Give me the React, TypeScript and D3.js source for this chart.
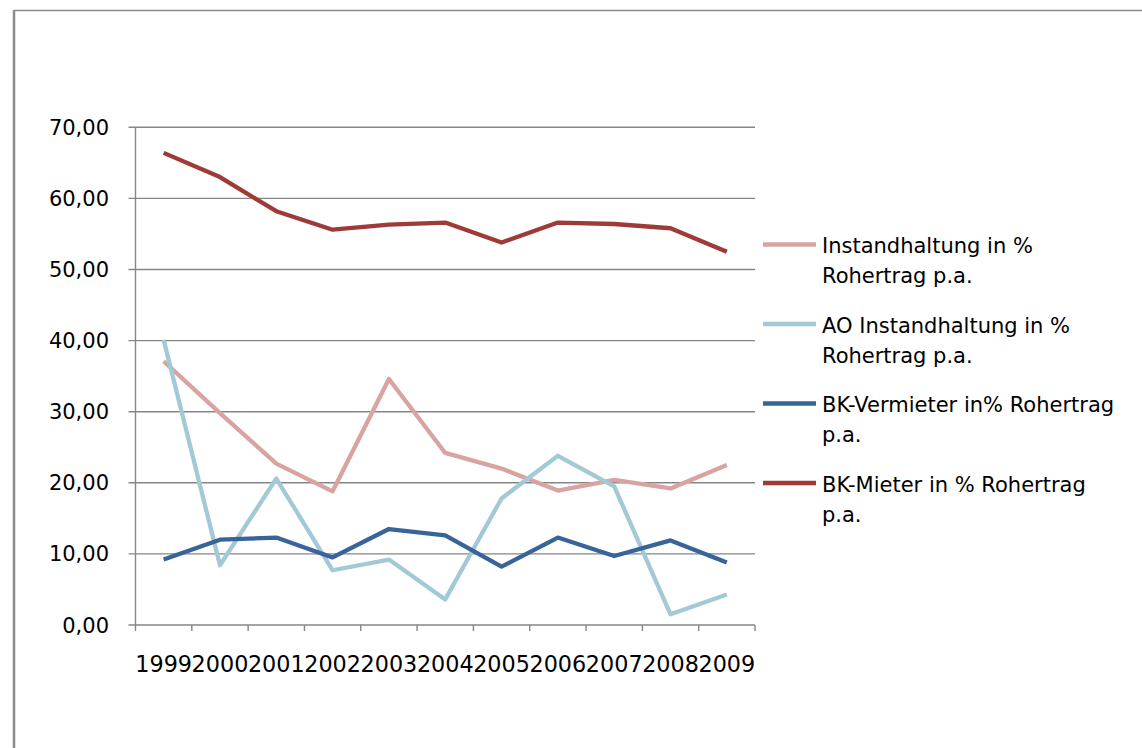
import React from 'react';
import * as d3 from 'd3';

const years = ['1999', '2000', '2001', '2002', '2003', '2004', '2005', '2006', '2007', '2008', '2009'];

const instandhaltung = [37.1, 29.8, 22.7, 18.8, 34.6, 24.2, 22.0, 18.9, 20.4, 19.2, 22.5];
const aoInstandhaltung = [40.1, 8.4, 20.6, 7.7, 9.2, 3.6, 17.8, 23.8, 19.5, 1.5, 4.3];
const bkVermieter = [9.2, 12.0, 12.3, 9.5, 13.5, 12.6, 8.2, 12.3, 9.7, 11.9, 8.8];
const bkMieter = [66.4, 63.0, 58.2, 55.6, 56.3, 56.6, 53.8, 56.6, 56.4, 55.8, 52.5];

const yTicks = [0, 10, 20, 30, 40, 50, 60, 70];

const seriesNames = [
  ['Instandhaltung in %', 'Rohertrag p.a.'],
  ['AO Instandhaltung in %', 'Rohertrag p.a.'],
  ['BK-Vermieter in% Rohertrag', 'p.a.'],
  ['BK-Mieter in % Rohertrag', 'p.a.'],
];
const seriesColors = ['#D8A3A1', '#A3C9D6', '#38649A', '#9E3A38'];
const seriesValues = [instandhaltung, aoInstandhaltung, bkVermieter, bkMieter];

const W = 1142;
const H = 748;
const font = '"DejaVu Sans", sans-serif';

const App: React.FC = () => {
  const plot = { left: 135.5, right: 755, top: 127.3, bottom: 625 };

  const x = d3.scaleBand<string>().domain(years).range([plot.left, plot.right]);
  const y = d3.scaleLinear().domain([0, 70]).range([plot.bottom, plot.top]);

  const line = d3
    .line<number>()
    .x((_, i) => x(years[i])! + x.bandwidth() / 2)
    .y(d => y(d));

  const fmt = (v: number) => v.toFixed(2).replace('.', ',');
  const grid = '#868686';

  return (
    <div style={{ position: 'absolute', left: 0, top: 0 }}>
      <svg width={W} height={H} style={{ display: 'block', background: '#fff' }}>
        {/* frame */}
        <line x1={14} y1={10.5} x2={W} y2={10.5} stroke="#8c8c8c" strokeWidth={1.5} />
        <line x1={14} y1={10} x2={14} y2={H} stroke="#8c8c8c" strokeWidth={2.5} />

        {/* gridlines + y ticks */}
        {yTicks.map(t => (
          <g key={t}>
            <line x1={plot.left - 7} x2={plot.right} y1={y(t)} y2={y(t)} stroke={grid} strokeWidth={1.4} />
            <text
              x={109}
              y={y(t)}
              dy="0.36em"
              textAnchor="end"
              fontFamily={font}
              fontSize={21}
              fill="#000"
            >
              {fmt(t)}
            </text>
          </g>
        ))}

        {/* axes */}
        <line x1={plot.left} x2={plot.left} y1={plot.top} y2={plot.bottom} stroke={grid} strokeWidth={1.4} />
        {[...years.map(yr => x(yr)!), plot.right].map((px, i) => (
          <line key={i} x1={px} x2={px} y1={plot.bottom} y2={plot.bottom + 6} stroke={grid} strokeWidth={1.4} />
        ))}
        {years.map(yr => (
          <text
            key={yr}
            x={x(yr)! + x.bandwidth() / 2}
            y={672}
            textAnchor="middle"
            fontFamily={font}
            fontSize={22.3}
            fill="#000"
          >
            {yr}
          </text>
        ))}

        {/* series */}
        {seriesValues.map((vals, i) => (
          <path
            key={i}
            d={line(vals) || ''}
            fill="none"
            stroke={seriesColors[i]}
            strokeWidth={4.3}
            strokeLinejoin="round"
          />
        ))}

        {/* legend */}
        {seriesNames.map((lines, i) => {
          const base = 253 + i * 79.5;
          return (
            <g key={i}>
              <line x1={763} x2={816} y1={base - 8.5} y2={base - 8.5} stroke={seriesColors[i]} strokeWidth={4.3} />
              {lines.map((t, j) => (
                <text key={j} x={822} y={base + j * 30} fontFamily={font} fontSize={21} fill="#000">
                  {t}
                </text>
              ))}
            </g>
          );
        })}
      </svg>
    </div>
  );
};

export default App;
